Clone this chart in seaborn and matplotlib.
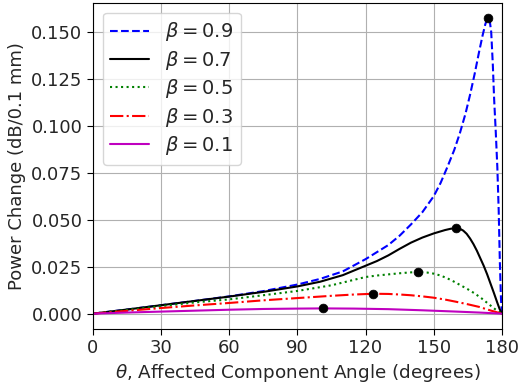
import matplotlib
matplotlib.use("Agg")
import matplotlib.pyplot as plt
import seaborn as sns
import pandas as pd

# ---- data ----
theta_09 = [0, 15, 30, 45, 60, 75, 90, 100, 110, 120, 130, 135, 140, 145, 150, 153,
            156, 159, 161.5, 164, 166, 168, 170, 171.5, 172.7, 173.7, 174.7, 175.3,
            176, 176.6, 177.3, 178, 178.6, 179.1, 179.6, 180]
p_09 = [0, 0.0022, 0.0045, 0.0068, 0.0092, 0.0120, 0.0155, 0.0185, 0.0225, 0.0290,
        0.0365, 0.0415, 0.0475, 0.0540, 0.0625, 0.0695, 0.0780, 0.0870, 0.0960,
        0.1065, 0.1165, 0.1275, 0.1395, 0.1480, 0.1540, 0.1575, 0.1555, 0.150,
        0.133, 0.114, 0.097, 0.078, 0.055, 0.028, 0.008, 0]

theta_07 = [0, 15, 30, 45, 60, 75, 90, 100, 110, 120, 125, 130, 135, 140, 145, 150,
            155, 157.5, 159.8, 161.5, 163, 164.5, 166, 167.5, 169, 170.5, 172, 173.5,
            175, 176.5, 178, 179, 180]
p_07 = [0, 0.0022, 0.0045, 0.0068, 0.0091, 0.0116, 0.0145, 0.0170, 0.0205, 0.0255,
        0.0280, 0.0310, 0.0345, 0.0378, 0.0405, 0.0427, 0.0445, 0.0452, 0.0455,
        0.0452, 0.0442, 0.0425, 0.0400, 0.0370, 0.0335, 0.0295, 0.0255, 0.0210,
        0.0160, 0.0110, 0.0058, 0.0025, 0]

theta_05 = [0, 15, 30, 45, 60, 75, 90, 105, 120, 125, 130, 135, 139, 142.9, 147, 150,
            153, 156, 159, 162, 165, 168, 171, 174, 177, 180]
p_05 = [0, 0.0020, 0.0040, 0.0060, 0.0076, 0.0098, 0.0121, 0.0151, 0.0195, 0.0203,
        0.0209, 0.0215, 0.0219, 0.0222, 0.0219, 0.0213, 0.0203, 0.0188, 0.0170,
        0.0150, 0.0130, 0.0108, 0.0082, 0.0053, 0.0024, 0]

theta_03 = [0, 15, 30, 45, 60, 75, 90, 105, 115, 123.4, 130, 135, 140, 145, 150, 155,
            160, 165, 170, 175, 180]
p_03 = [0, 0.0015, 0.0030, 0.0044, 0.0057, 0.0071, 0.0083, 0.0095, 0.0102, 0.0106,
        0.0105, 0.0102, 0.0098, 0.0092, 0.0085, 0.0075, 0.0063, 0.0050, 0.0036,
        0.0017, 0]

theta_01 = [0, 15, 30, 45, 60, 75, 90, 101.4, 115, 130, 145, 160, 170, 180]
p_01 = [0, 0.0006, 0.0011, 0.0016, 0.0021, 0.0025, 0.0027, 0.0028, 0.0027, 0.0024,
        0.0018, 0.0011, 0.0006, 0]

peak_theta = [173.7, 159.8, 142.9, 123.4, 101.4]
peak_power = [0.1575, 0.0455, 0.0222, 0.0106, 0.0028]

labels = [r"$\beta = 0.9$", r"$\beta = 0.7$", r"$\beta = 0.5$", r"$\beta = 0.3$", r"$\beta = 0.1$"]
xticks = [0, 30, 60, 90, 120, 150, 180]
yticks = [0, 0.025, 0.05, 0.075, 0.1, 0.125, 0.15]

series = [(theta_09, p_09, "blue", "--"),
          (theta_07, p_07, "black", "-"),
          (theta_05, p_05, "green", ":"),
          (theta_03, p_03, "red", "-."),
          (theta_01, p_01, "m", "-")]

sns.set_style("ticks")
plt.rcParams["font.family"] = ["DejaVu Sans"]
plt.rcParams["mathtext.fontset"] = "dejavusans"

fig = plt.figure(figsize=(5.19, 3.84), dpi=100)
ax = fig.add_axes([0.179, 0.1445, 0.788, 0.848])

for (th, p, c, ls), lab in zip(series, labels):
    df = pd.DataFrame({"theta": th, "power": p})
    sns.lineplot(data=df, x="theta", y="power", ax=ax, color=c, linestyle=ls,
                 linewidth=1.5, label=lab, sort=False)

pk = pd.DataFrame({"theta": peak_theta, "power": peak_power})
sns.scatterplot(data=pk, x="theta", y="power", ax=ax, color="black", s=40,
                edgecolor="black", zorder=5, legend=False)

ax.set_xlim(0, 180)
ax.set_ylim(-0.0079, 0.1654)
ax.set_xticks(xticks)
ax.set_yticks(yticks)
ax.yaxis.set_major_formatter(matplotlib.ticker.FormatStrFormatter("%.3f"))
ax.grid(True, color="#b0b0b0", linewidth=0.8)
for s in ax.spines.values():
    s.set_color("black")
    s.set_linewidth(0.8)
ax.tick_params(labelsize=13, color="black", length=4, width=0.8)
ax.set_xlabel(r"$\theta$, Affected Component Angle (degrees)", fontsize=13.2)
ax.set_ylabel("Power Change (dB/0.1 mm)", fontsize=13)

leg = ax.legend(loc="upper left", fontsize=14, handlelength=2, labelspacing=0.28,
                frameon=True, fancybox=True, framealpha=0.8, borderaxespad=0.5)

fig.savefig("out.png", dpi=100)
